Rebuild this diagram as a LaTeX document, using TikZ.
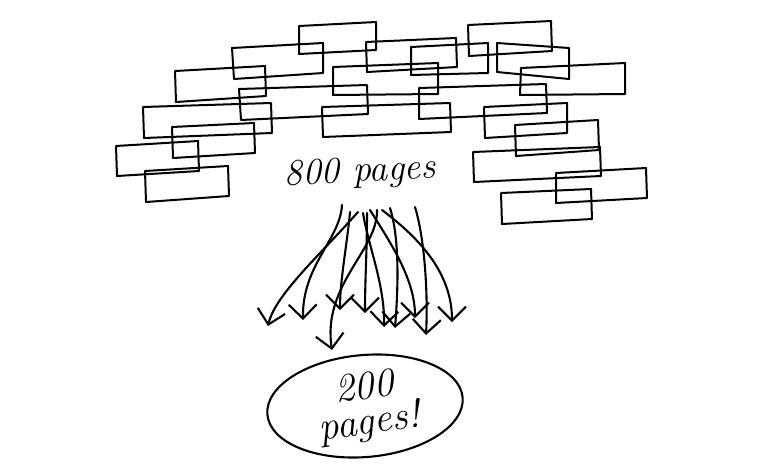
\documentclass[tikz,border=0pt]{standalone}
\usepackage{tikz}
\usetikzlibrary{shapes.geometric, arrows.meta, positioning}

\begin{document}
\begin{tikzpicture}[x=1pt, y=-1pt, line join=round, line cap=round,
    pagebox/.style={draw, line width=2pt},
    fanarrow/.style={line width=2.1pt, -{Straight Barb[length=14pt,width=28pt,line width=2.1pt]}},
    scrawl/.style={font=\fontsize{37}{34}\selectfont\itshape}]
  \useasboundingbox (0,0) rectangle (763,469);
  %% Pile of skewed page boxes
  \foreach \xa/\ya/\xb/\yb/\xc/\yc/\xd/\yd in {
    299/26/376/22/376/50/299/54, 232/48/323/43/323/73/234/79,
    175/71/265/66/266/96/176/102, 239/89/367/85/368/114/241/120,
    143/107/271/103/272/133/144/138, 172/127/254/123/255/153/173/158,
    116/146/198/141/199/171/117/176, 145/171/228/166/229/196/146/202,
    322/107/450/103/451/132/323/137, 333/67/438/63/438/94/333/95,
    366/42/456/38/457/67/367/72, 411/47/488/43/488/73/411/75,
    468/25/551/21/552/51/469/56, 497/43/569/48/569/79/497/72,
    521/68/625/63/625/94/520/95, 419/88/546/84/547/113/419/119,
    484/107/567/103/567/133/485/138, 515/125/598/120/599/150/516/156,
    473/152/600/147/601/176/474/182, 556/173/646/168/647/198/556/203,
    501/193/591/189/592/219/502/224}{
    \draw[pagebox] (\xa,\ya) -- (\xb,\yb) -- (\xc,\yc) -- (\xd,\yd) -- cycle;
  }
  %% Labels
  \node[scrawl, rotate=3] (src) at (360,173) {800 pages};
  \node[draw, ellipse, line width=2.1pt, rotate=5, inner sep=0pt,
        minimum width=196pt, minimum height=102pt] (goal) at (365,406) {};
  \node[align=center, rotate=8, font=\fontsize{40}{35}\selectfont\itshape]
    (goaltext) at (367,407) {200\\pages!};
  %% Fan of arrows
  \foreach \n/\sx/\sy/\tx/\ty in {1/358/212/268/326, 2/342/205/303/320,
    3/350/212/340/310, 4/377/210/332/350, 5/367/213/365/313,
    6/363/213/384/327, 7/390/208/395/328, 8/370/210/415/318,
    9/415/207/426/335, 10/382/210/452/322}{
    \coordinate (s\n) at (\sx,\sy);
    \coordinate (t\n) at (\tx,\ty);
  }
  \draw[fanarrow] (s1) .. controls (320,255) and (275,295) .. (t1);
  \draw[fanarrow] (s2) .. controls (340,240) and (302,265) .. (t2);
  \draw[fanarrow] (s3) .. controls (347,245) and (340,280) .. (t3);
  \draw[fanarrow] (s4) .. controls (378,250) and (322,285) .. (t4);
  \draw[fanarrow] (s5) .. controls (367,250) and (365,280) .. (t5);
  \draw[fanarrow] (s6) .. controls (368,245) and (385,285) .. (t6);
  \draw[fanarrow] (s7) .. controls (400,240) and (398,290) .. (t7);
  \draw[fanarrow] (s8) .. controls (392,245) and (415,280) .. (t8);
  \draw[fanarrow] (s9) .. controls (425,240) and (428,295) .. (t9);
  \draw[fanarrow] (s10) .. controls (415,235) and (452,270) .. (t10);
\end{tikzpicture}
\end{document}
